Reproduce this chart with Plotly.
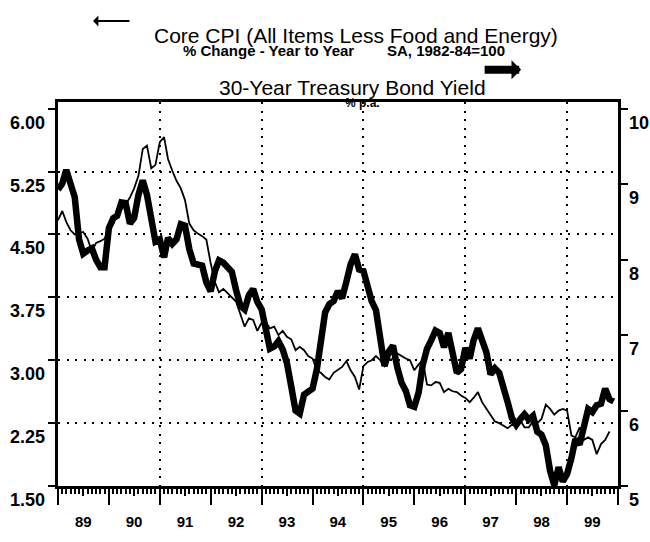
import pandas as pd
import plotly.graph_objects as go

# ---------------- data ----------------
months = pd.date_range("1989-01-01", "1999-12-01", freq="MS")

# 30-Year Treasury Bond Yield, % p.a. (thick line, right axis)
bond_yield = [
    8.93, 9.01, 9.19, 9.03, 8.83, 8.27, 8.08, 8.12, 8.15, 8.00, 7.90, 7.90,   # 1989
    8.42, 8.55, 8.58, 8.76, 8.75, 8.48, 8.55, 8.86, 9.05, 8.86, 8.50, 8.24,   # 1990
    8.27, 8.03, 8.29, 8.21, 8.27, 8.47, 8.45, 8.14, 7.95, 7.93, 7.92, 7.70,   # 1991
    7.58, 7.85, 7.99, 7.96, 7.89, 7.84, 7.60, 7.39, 7.34, 7.53, 7.61, 7.44,   # 1992
    7.34, 7.09, 6.82, 6.85, 6.92, 6.81, 6.63, 6.32, 6.00, 5.96, 6.21, 6.25,   # 1993
    6.29, 6.55, 6.91, 7.30, 7.41, 7.45, 7.58, 7.49, 7.71, 7.94, 8.07, 7.87,   # 1994
    7.85, 7.61, 7.45, 7.33, 6.95, 6.59, 6.78, 6.86, 6.57, 6.37, 6.26, 6.07,   # 1995
    6.05, 6.24, 6.60, 6.82, 6.93, 7.06, 7.03, 6.84, 7.03, 6.81, 6.50, 6.55,   # 1996
    6.83, 6.69, 6.93, 7.09, 6.90, 6.77, 6.48, 6.56, 6.50, 6.33, 6.11, 5.90,   # 1997
    5.81, 5.89, 5.95, 5.88, 5.93, 5.72, 5.68, 5.54, 5.20, 5.01, 5.25, 5.06,   # 1998
    5.16, 5.37, 5.62, 5.55, 5.81, 6.02, 5.98, 6.07, 6.09, 6.29, 6.15, 6.12,   # 1999
]

# Core CPI (All Items Less Food and Energy), % change year to year (thin line, left axis)
core_cpi = [
    4.67, 4.78, 4.65, 4.55, 4.50, 4.52, 4.53, 4.45, 4.30, 4.40, 4.42, 4.45,   # 1989
    4.55, 4.62, 4.74, 4.80, 4.86, 4.94, 5.05, 5.20, 5.52, 5.56, 5.29, 5.33,   # 1990
    5.60, 5.66, 5.40, 5.26, 5.14, 5.05, 4.91, 4.63, 4.55, 4.51, 4.48, 4.44,   # 1991
    4.16, 3.93, 3.81, 3.85, 3.80, 3.76, 3.70, 3.55, 3.40, 3.50, 3.48, 3.35,   # 1992
    3.45, 3.45, 3.38, 3.40, 3.30, 3.35, 3.28, 3.25, 3.12, 3.16, 3.12, 3.05,   # 1993
    3.02, 2.88, 2.85, 2.80, 2.77, 2.85, 2.88, 2.92, 2.99, 2.88, 2.80, 2.65,   # 1994
    2.93, 2.98, 3.00, 3.05, 3.00, 2.93, 3.00, 3.02, 3.08, 3.05, 3.02, 3.00,   # 1995
    2.88, 2.95, 3.00, 2.71, 2.70, 2.74, 2.73, 2.62, 2.66, 2.63, 2.62, 2.58,   # 1996
    2.55, 2.50, 2.55, 2.62, 2.50, 2.42, 2.35, 2.27, 2.25, 2.22, 2.19, 2.23,   # 1997
    2.22, 2.28, 2.20, 2.20, 2.27, 2.25, 2.30, 2.47, 2.42, 2.35, 2.40, 2.42,   # 1998
    2.40, 2.10, 2.08, 2.20, 2.05, 2.08, 2.05, 1.88, 2.00, 2.05, 2.15,         # 1999
]
cpi_months = months[:len(core_cpi)]

year_starts = list(pd.date_range("1989-01-01", "2000-01-01", freq="YS"))
mid_years = [pd.Timestamp(f"{y}-07-01") for y in range(1989, 2000)]
year_labels = ["89", "90", "91", "92", "93", "94", "95", "96", "97", "98", "99"]
grid_years = [pd.Timestamp(f"{y}-01-01") for y in (1991, 1993, 1995, 1997, 1999)]

left_ticks = [1.50, 2.25, 3.00, 3.75, 4.50, 5.25, 6.00]
left_grid = [2.25, 3.00, 3.75, 4.50, 5.25]
right_ticks = [5, 6, 7, 8, 9, 10]

X_RANGE = ["1989-01-01", "2000-01-01"]
Y_RANGE = [1.5, 6.08]
Y2_RANGE = [5.0, 10.09]

FONT = "Liberation Sans, Arial, sans-serif"
BLACK = "#000000"

# ---------------- figure ----------------
fig = go.Figure()

fig.add_trace(go.Scatter(
    x=cpi_months, y=core_cpi, mode="lines", yaxis="y",
    line=dict(color=BLACK, width=1.8), showlegend=False, hoverinfo="skip",
))
fig.add_trace(go.Scatter(
    x=months, y=bond_yield, mode="lines", yaxis="y2",
    line=dict(color=BLACK, width=6.5), showlegend=False, hoverinfo="skip",
))
# empty helper traces so the overlay axes (labels, ticks, gridlines) are drawn
for xa, ya in (("x2", "y"), ("x3", "y"), ("x4", "y"), ("x", "y3")):
    fig.add_trace(go.Scatter(x=[], y=[], xaxis=xa, yaxis=ya, showlegend=False,
                             hoverinfo="skip"))

dots = "2px,6.5px"

fig.update_layout(
    width=650, height=542,
    margin=dict(l=58, r=32, t=102, b=46),
    paper_bgcolor="white", plot_bgcolor="white",
    font=dict(family=FONT, color=BLACK),
    showlegend=False,
    xaxis=dict(
        type="date", range=X_RANGE, showgrid=False, zeroline=False,
        tickmode="array", tickvals=year_starts, showticklabels=False,
        ticks="outside", ticklen=16, tickwidth=2, tickcolor=BLACK,
        minor=dict(tickmode="linear", tick0="1989-01-01", dtick="M1",
                   ticks="outside", ticklen=5, tickwidth=1.5, tickcolor=BLACK,
                   showgrid=False),
        showline=True, linewidth=3, linecolor=BLACK, mirror=True,
    ),
    # year labels at mid-year (invisible ticks push them down)
    xaxis2=dict(
        type="date", range=X_RANGE, overlaying="x", anchor="y", side="bottom",
        showgrid=False, zeroline=False, showline=False,
        tickmode="array", tickvals=mid_years, ticktext=year_labels,
        ticks="outside", ticklen=22, tickwidth=1, tickcolor="rgba(0,0,0,0)",
        tickfont=dict(family=FONT, size=15, color=BLACK, weight="bold"),
    ),
    # dotted vertical gridlines every two years
    xaxis3=dict(
        type="date", range=X_RANGE, overlaying="x", anchor="y",
        tickmode="array", tickvals=grid_years, showticklabels=False, ticks="",
        showgrid=True, gridcolor=BLACK, gridwidth=2, griddash=dots,
        zeroline=False, showline=False,
    ),
    # medium mid-year ticks
    xaxis4=dict(
        type="date", range=X_RANGE, overlaying="x", anchor="y", side="bottom",
        tickmode="array", tickvals=mid_years, showticklabels=False,
        ticks="outside", ticklen=9, tickwidth=1.5, tickcolor=BLACK,
        showgrid=False, zeroline=False, showline=False,
    ),
    yaxis=dict(
        range=Y_RANGE, tickmode="array", tickvals=left_ticks, showticklabels=False,
        ticks="outside", ticklen=7, tickwidth=2, tickcolor=BLACK,
        showgrid=False, zeroline=False,
        showline=True, linewidth=3, linecolor=BLACK,
    ),
    yaxis3=dict(
        range=Y_RANGE, overlaying="y", anchor="x",
        tickmode="array", tickvals=left_grid, showticklabels=False, ticks="",
        showgrid=True, gridcolor=BLACK, gridwidth=2, griddash=dots,
        zeroline=False, showline=False,
    ),
    yaxis2=dict(
        range=Y2_RANGE, overlaying="y", side="right", anchor="x",
        tickmode="array", tickvals=right_ticks, showticklabels=False,
        ticks="outside", ticklen=7, tickwidth=2, tickcolor=BLACK,
        showgrid=False, zeroline=False,
        showline=True, linewidth=3, linecolor=BLACK,
    ),
)

annotations = []
# left axis labels (set just below their ticks, as in the original)
for v in left_ticks:
    annotations.append(dict(
        xref="paper", x=0, yref="y", y=v, text=f"{v:.2f}", showarrow=False,
        xanchor="right", yanchor="middle", xshift=-11, yshift=-14,
        font=dict(family=FONT, size=18, color=BLACK, weight="bold"),
    ))
# right axis labels
for v in right_ticks:
    annotations.append(dict(
        xref="paper", x=1, yref="y2", y=v, text=f"{v}", showarrow=False,
        xanchor="left", yanchor="middle", xshift=9, yshift=-14,
        font=dict(family=FONT, size=18, color=BLACK, weight="bold"),
    ))

# titles
annotations += [
    dict(xref="paper", yref="paper", x=0.532, y=1.172, showarrow=False,
         text="Core CPI (All Items Less Food and Energy)",
         xanchor="center", yanchor="middle",
         font=dict(family=FONT, size=21, color=BLACK)),
    dict(xref="paper", yref="paper", x=0.375, y=1.134, showarrow=False,
         text="% Change - Year to Year", xanchor="center", yanchor="middle",
         font=dict(family=FONT, size=15, color=BLACK, weight="bold")),
    dict(xref="paper", yref="paper", x=0.693, y=1.134, showarrow=False,
         text="SA, 1982-84=100", xanchor="center", yanchor="middle",
         font=dict(family=FONT, size=15, color=BLACK, weight="bold")),
    dict(xref="paper", yref="paper", x=0.525, y=1.037, showarrow=False,
         text="30-Year Treasury Bond Yield", xanchor="center", yanchor="middle",
         font=dict(family=FONT, size=21, color=BLACK)),
    dict(xref="paper", yref="paper", x=0.543, y=0.998, showarrow=False,
         text="% p.a.", xanchor="center", yanchor="middle",
         font=dict(family=FONT, size=12, color=BLACK, weight="bold")),
    # thin-line key arrow, pointing to the left axis
    dict(xref="paper", yref="paper", x=0.0625, y=1.211, text="",
         showarrow=True, ax=38, ay=0, arrowhead=1, arrowsize=0.9,
         arrowwidth=2, arrowcolor=BLACK, standoff=0),
    # thick-line key arrow, pointing to the right axis
    dict(xref="paper", yref="paper", x=0.827, y=1.084, text="",
         showarrow=True, ax=-38, ay=0, arrowhead=1, arrowsize=0.4,
         arrowwidth=8, arrowcolor=BLACK, standoff=0),
]
fig.update_layout(annotations=annotations)

fig.write_html(
    "out.html",
    config={"displayModeBar": False},
    post_script="document.body.style.margin='0';document.body.style.overflow='hidden';",
)
